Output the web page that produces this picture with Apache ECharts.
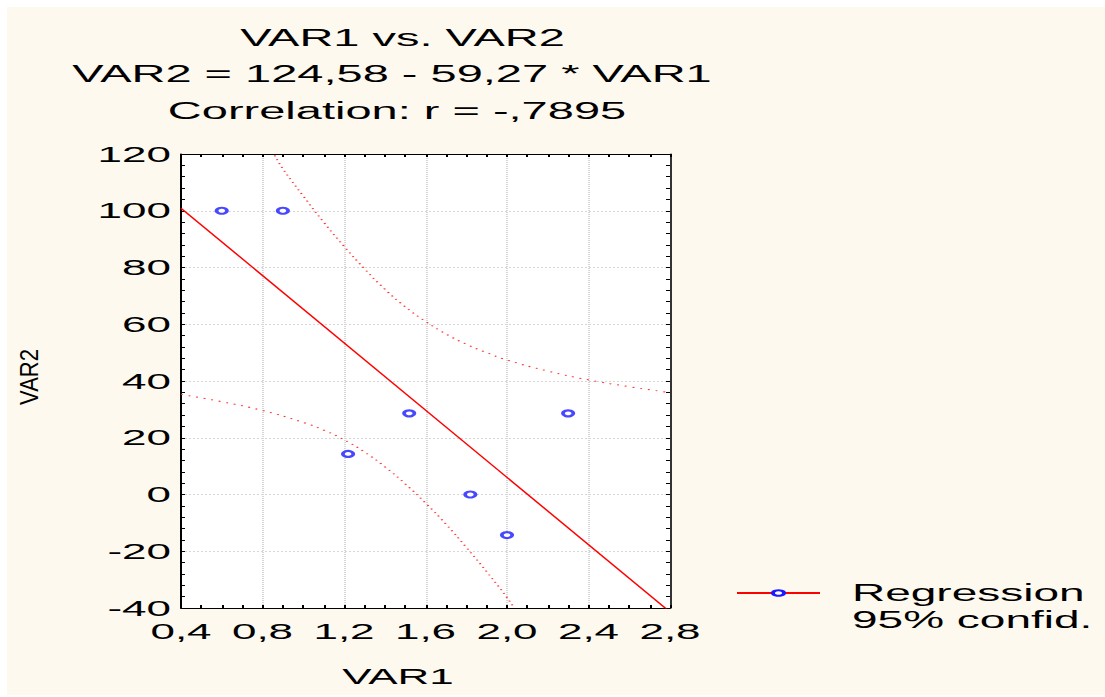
<!DOCTYPE html>
<html>
<head>
<meta charset="utf-8">
<script src="https://cdn.jsdelivr.net/npm/echarts@6/dist/echarts.min.js"></script>
<style>
html,body{margin:0;padding:0;background:#ffffff;width:1105px;height:697px;overflow:hidden;}
#bg{position:absolute;left:7px;top:7px;right:0;bottom:2px;background:#FDF9EF;}
#chart{position:absolute;left:0;top:0;width:552.5px;height:697px;transform:scaleX(2);transform-origin:0 0;}
</style>
</head>
<body>
<div id="bg"></div>
<div id="chart"></div>
<script>
// ---- data ----
const titleLines = ['VAR1 vs. VAR2', 'VAR2 = 124,58 - 59,27 * VAR1', 'Correlation: r = -,7895'];
const xName = 'VAR1';
const yName = 'VAR2';
const var1 = [0.6, 0.9, 1.22, 1.52, 1.82, 2.0, 2.3];
const var2 = [100, 100, 14.3, 28.6, 0, -14.3, 28.6];
const regressionLine = [[0.4, 100.9], [2.8, -41.4]];
const upperBand = [[0.86, 119.5], [0.9, 114.8], [1.0, 105.2], [1.1, 96.0], [1.2, 87.5], [1.3, 79.6], [1.4, 72.4], [1.5, 66.2], [1.6, 61.0], [1.7, 56.6], [1.8, 53.0], [1.9, 50.0], [2.0, 47.4], [2.2, 43.5], [2.4, 40.4], [2.6, 38.0], [2.8, 35.9]];
const lowerBand = [[0.4, 35.3], [0.6, 32.7], [0.8, 29.6], [1.0, 25.4], [1.1, 22.7], [1.2, 19.3], [1.3, 15.0], [1.4, 9.8], [1.5, 3.8], [1.6, -3.0], [1.7, -10.4], [1.8, -18.6], [1.9, -27.2], [2.0, -36.3], [2.035, -40]];
const xMin = 0.4, xMax = 2.8, xStep = 0.4;
const yMin = -40, yMax = 120, yStep = 20;
const legendLines = ['Regression', '95% confid.'];

const FONT = '"Liberation Sans", Arial, sans-serif';
const fmtComma = v => (Math.round(v * 10) / 10).toFixed(1).replace('.', ',');

const chart = echarts.init(document.getElementById('chart'), null, { renderer: 'svg' });

const baseX = {
  type: 'value', min: xMin, max: xMax, interval: xStep,
  axisLine: { show: true, onZero: false, lineStyle: { color: '#000', width: 1 } },
  axisTick: { show: true, inside: true, length: 3, lineStyle: { color: '#000' } },
  minorTick: { show: true, splitNumber: 4, length: 3, lineStyle: { color: '#000' } },
  splitLine: { show: false },
  minorSplitLine: { show: false }
};
const baseY = {
  type: 'value', min: yMin, max: yMax, interval: yStep,
  axisLine: { show: true, onZero: false, lineStyle: { color: '#000', width: 1 } },
  axisTick: { show: true, inside: true, length: 2, lineStyle: { color: '#000' } },
  minorTick: { show: true, splitNumber: 5, length: 2, lineStyle: { color: '#000' } },
  splitLine: { show: false },
  minorSplitLine: { show: false }
};

const option = {
  backgroundColor: 'transparent',
  animation: false,
  grid: { left: 90.5, top: 154, width: 244.5, height: 454, show: true, backgroundColor: '#ffffff', borderWidth: 0 },
  xAxis: [
    Object.assign({}, baseX, {
      position: 'bottom',
      axisLabel: { show: true, margin: 12, fontSize: 22, fontFamily: FONT, color: '#000', formatter: fmtComma },
      splitLine: { show: true, lineStyle: { color: '#d6d6d6', type: 'dotted', width: 1 } }
    }),
    Object.assign({}, baseX, { position: 'top', axisLabel: { show: false } })
  ],
  yAxis: [
    Object.assign({}, baseY, {
      position: 'left',
      axisLabel: { show: true, margin: 5, fontSize: 22, fontFamily: FONT, color: '#000' },
      splitLine: { show: true, lineStyle: { color: '#d6d6d6', type: 'dotted', width: 1 } }
    }),
    Object.assign({}, baseY, { position: 'right', axisLabel: { show: false }, axisLine: { show: true, onZero: false, lineStyle: { color: '#333', width: 1 } } })
  ],
  legend: {
    data: ['Regression'],
    left: 367.5, top: 552.5, padding: 0,
    orient: 'vertical',
    selectedMode: false,
    itemWidth: 41.5, itemHeight: 7,
    formatter: () => '\n' + legendLines.join('\n'),
    textStyle: { fontSize: 23, fontFamily: FONT, color: '#000', lineHeight: 27, padding: [0, 0, 0, 11] }
  },
  graphic: [
    { type: 'text', x: 201.25, y: 37.5, style: { text: titleLines[0], fontSize: 23.5, fontFamily: FONT, fill: '#000', align: 'center', verticalAlign: 'middle' } },
    { type: 'text', x: 196, y: 74, style: { text: titleLines[1], fontSize: 23.5, fontFamily: FONT, fill: '#000', align: 'center', verticalAlign: 'middle' } },
    { type: 'text', x: 198.5, y: 110.5, style: { text: titleLines[2], fontSize: 23.5, fontFamily: FONT, fill: '#000', align: 'center', verticalAlign: 'middle' } },
    { type: 'text', x: 199, y: 676, style: { text: xName, fontSize: 22, fontFamily: FONT, fill: '#000', align: 'center', verticalAlign: 'middle' } },
    { type: 'text', x: 14.5, y: 377, rotation: Math.PI / 2, scaleY: 0.57, style: { text: yName, fontSize: 22, fontFamily: FONT, fill: '#000', align: 'center', verticalAlign: 'middle' } }
  ],
  series: [
    {
      name: '95% confid.', type: 'line', data: upperBand, smooth: true, showSymbol: false, symbol: 'none',
      lineStyle: { color: '#ff3030', width: 1, type: [1, 3] }, silent: true, z: 2
    },
    {
      name: '95% confid. (lower)', type: 'line', data: lowerBand, smooth: true, showSymbol: false, symbol: 'none',
      lineStyle: { color: '#ff3030', width: 1, type: [1, 3] }, silent: true, z: 2
    },
    {
      name: 'Regression', type: 'line', data: regressionLine, showSymbol: false,
      symbol: 'emptyCircle', symbolSize: [5.2, 6],
      itemStyle: { color: '#1a1aff', borderColor: '#1a1aff', borderWidth: 0.7 },
      lineStyle: { color: '#ff0000', width: 1 }, silent: true, z: 3
    },
    {
      name: 'Data', type: 'scatter', data: var1.map((x, i) => [x, var2[i]]),
      symbol: 'emptyCircle', symbolSize: [5.2, 6],
      itemStyle: { color: '#1a1aff', borderColor: '#1a1aff', borderWidth: 0.7 }, z: 4
    }
  ]
};
chart.setOption(option);
</script>
</body>
</html>
